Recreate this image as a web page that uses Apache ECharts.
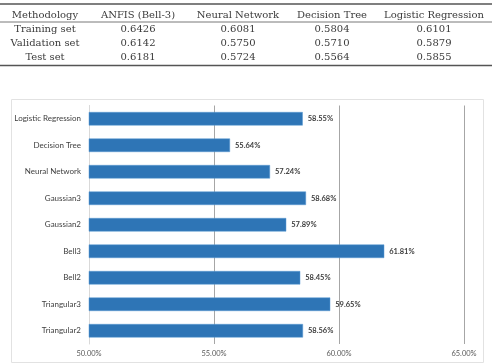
<!DOCTYPE html>
<html><head><meta charset="utf-8">
<script src="https://cdn.jsdelivr.net/npm/echarts@6/dist/echarts.min.js"></script>
<style>html,body{margin:0;padding:0;background:#fff}#c{width:492px;height:363px}</style>
</head><body><div id="c"></div>
<script>
// Table data
const tableHeader = ['Methodology', 'ANFIS (Bell-3)', 'Neural Network', 'Decision Tree', 'Logistic Regression'];
const tableRowNames = ['Training set', 'Validation set', 'Test set'];
const tableAnfis = ['0.6426', '0.6142', '0.6181'];
const tableNeural = ['0.6081', '0.5750', '0.5724'];
const tableTree = ['0.5804', '0.5710', '0.5564'];
const tableLogistic = ['0.6101', '0.5879', '0.5855'];

// Bar chart data (top to bottom)
const categories = ['Logistic Regression', 'Decision Tree', 'Neural Network', 'Gaussian3', 'Gaussian2', 'Bell3', 'Bell2', 'Triangular3', 'Triangular2'];
const values = [58.55, 55.64, 57.24, 58.68, 57.89, 61.81, 58.45, 59.65, 58.56];
const axisMin = 50, axisMax = 65, axisStep = 5;

const chart = echarts.init(document.getElementById('c'), null, {renderer: 'canvas'});

const colX = [45, 138, 238, 332, 434];
const rowY = [15, 29, 43, 57];
const serif = '"DejaVu Serif", "Liberation Serif", serif';
const tFont = '10px ' + serif;
const g = [];
function txt(s, x, y) {
  g.push({type: 'text', x: x, y: y, style: {text: s, font: tFont, fill: '#3a3a3a', textAlign: 'center', textVerticalAlign: 'middle'}, silent: true});
}
tableHeader.forEach((h, i) => txt(h, colX[i], rowY[0]));
const cols = [tableRowNames, tableAnfis, tableNeural, tableTree, tableLogistic];
for (let r = 0; r < 3; r++) {
  for (let c = 0; c < 5; c++) txt(cols[c][r], colX[c], rowY[r + 1]);
}
function hline(y, w) {
  g.push({type: 'line', shape: {x1: 0, y1: y, x2: 492, y2: y}, style: {stroke: '#555', lineWidth: w}, silent: true});
}
hline(4, 1.3);
hline(22, 0.8);
hline(65.5, 1.3);
// chart frame
g.push({type: 'rect', shape: {x: 11.5, y: 99.5, width: 472, height: 263}, style: {fill: null, stroke: '#e2e2e2', lineWidth: 1}, silent: true, z: -1});

chart.setOption({
  animation: false,
  graphic: g,
  grid: {left: 89, right: 28, top: 105.5, bottom: 19, containLabel: false},
  xAxis: {
    type: 'value', min: axisMin, max: axisMax, interval: axisStep,
    axisLine: {show: false}, axisTick: {show: false},
    axisLabel: {formatter: v => v.toFixed(2) + '%', fontFamily: 'Lato, "Liberation Sans", sans-serif', fontSize: 7.5, color: '#595959', margin: 6},
    splitLine: {show: true, lineStyle: {color: ['#d9d9d9', '#a6a6a6', '#a6a6a6', '#a6a6a6'], width: 1}}
  },
  yAxis: {
    type: 'category', data: categories, inverse: true,
    axisLine: {show: true, lineStyle: {color: '#d9d9d9'}}, axisTick: {show: false},
    axisLabel: {fontFamily: 'Lato, "Liberation Sans", sans-serif', fontSize: 8, color: '#404040', margin: 8}
  },
  series: [{
    type: 'bar', data: values, barWidth: 13.5,
    itemStyle: {color: '#2E75B6', borderColor: '#5B9BD5', borderWidth: 0.5},
    label: {show: true, position: 'right', distance: 5, formatter: p => p.value.toFixed(2) + '%',
      fontFamily: 'Lato, "Liberation Sans", sans-serif', fontSize: 7.5, fontWeight: 'bold', color: '#404040'}
  }]
});
</script></body></html>
